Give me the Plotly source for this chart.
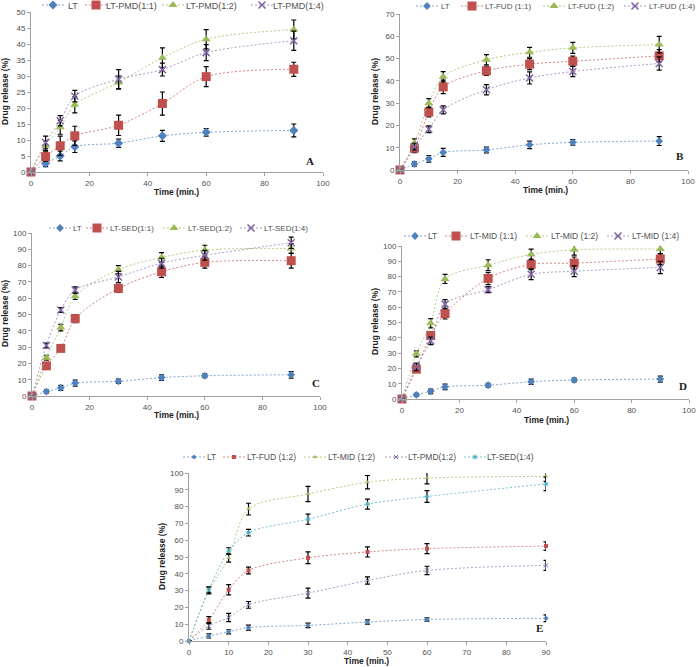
import plotly.graph_objects as go

W, H = 700, 667

time = [0, 5, 10, 15, 30, 45, 60, 90]
x_ticks_100 = [0, 20, 40, 60, 80, 100]
x_ticks_90 = [0, 10, 20, 30, 40, 50, 60, 70, 80, 90]

# LT (common)
lt = [0, 2.7, 5.0, 7.9, 9.0, 11.3, 12.4, 13.0]
lt_err = [0, 1.0, 1.5, 1.8, 1.3, 1.7, 1.2, 2.0]

# Panel A (PMD)
pmd11 = [0, 4.8, 8.2, 11.3, 14.6, 21.4, 29.8, 32.1]
pmd11_err = [0, 1.5, 3.0, 3.0, 3.2, 3.6, 3.1, 2.2]
pmd12 = [0, 8.2, 14.0, 21.0, 28.0, 35.7, 41.5, 44.5]
pmd12_err = [0, 1.5, 2.2, 2.5, 2.0, 3.1, 3.0, 3.0]
pmd14 = [0, 9.2, 16.0, 23.7, 29.0, 32.0, 37.3, 41.0]
pmd14_err = [0, 2.0, 1.6, 1.8, 3.0, 2.0, 2.5, 3.0]

# Panel B (FUD)
fud11 = [0, 9.8, 26.0, 37.3, 44.5, 47.5, 48.8, 51.2]
fud11_err = [0, 2.0, 2.2, 3.0, 2.0, 2.5, 2.3, 2.8]
fud12 = [0, 12.0, 30.0, 41.8, 49.5, 52.8, 54.8, 56.3]
fud12_err = [0, 2.0, 2.0, 2.3, 2.3, 2.2, 2.5, 3.7]
fud14 = [0, 10.5, 18.3, 27.0, 36.0, 41.3, 44.2, 47.8]
fud14_err = [0, 1.5, 1.5, 1.8, 2.3, 2.7, 2.3, 3.0]

# Panel C (SED)
sed11 = [0, 18.5, 29.2, 47.5, 66.0, 76.2, 82.0, 83.0]
sed11_err = [0, 1.5, 1.8, 2.5, 2.5, 3.5, 3.5, 4.5]
sed12 = [0, 23.5, 42.0, 61.2, 77.5, 85.0, 89.5, 90.5]
sed12_err = [0, 1.5, 2.0, 2.0, 2.5, 3.0, 3.0, 3.0]
sed14 = [0, 31.0, 52.8, 65.0, 73.0, 81.5, 86.3, 94.0]
sed14_err = [0, 1.5, 1.5, 2.0, 3.5, 3.0, 3.0, 3.5]

# Panel D (MID)
mid11 = [0, 19.5, 41.5, 55.8, 78.8, 88.0, 88.8, 91.5]
mid11_err = [0, 2.0, 2.0, 3.5, 4.0, 3.5, 4.0, 3.5]
mid12 = [0, 29.5, 49.5, 78.5, 87.5, 94.5, 97.5, 98.0]
mid12_err = [0, 2.0, 3.0, 3.0, 3.5, 3.5, 3.5, 3.0]
mid14 = [0, 21.0, 38.0, 62.0, 71.5, 81.5, 83.5, 86.0]
mid14_err = [0, 2.5, 2.5, 3.0, 2.0, 3.5, 3.5, 4.0]

# Panel E (comparison)
e_lt = [0, 3.0, 5.5, 8.0, 9.3, 11.3, 12.8, 13.5]
e_lt_err = [0, 1.2, 1.2, 1.5, 1.3, 1.3, 1.0, 2.0]
e_fud12 = [0, 12.5, 30.5, 42.0, 49.5, 53.0, 55.0, 56.5]
e_fud12_err = [0, 2.0, 3.0, 2.0, 3.5, 3.0, 3.0, 2.5]
e_mid12 = [0, 30.0, 49.5, 78.5, 87.5, 94.5, 97.0, 98.0]
e_mid12_err = [0, 2.0, 2.5, 3.5, 4.5, 4.0, 3.5, 3.0]
e_pmd12 = [0, 9.0, 14.0, 21.5, 28.5, 36.0, 42.0, 45.0]
e_pmd12_err = [0, 2.0, 2.5, 2.0, 3.0, 2.2, 2.5, 3.0]
e_sed14 = [0, 30.5, 53.5, 64.5, 72.5, 81.5, 86.0, 93.5]
e_sed14_err = [0, 1.8, 2.0, 2.0, 3.0, 3.0, 3.5, 4.0]

BLUE, RED, GREEN, PURPLE, CYAN = "#4F81BD", "#C0504D", "#9BBB59", "#8064A2", "#4BACC6"
LINE = {BLUE: "rgba(79,129,189,0.7)", RED: "rgba(192,80,77,0.7)", GREEN: "rgba(155,187,89,0.75)",
        PURPLE: "rgba(128,100,162,0.65)", CYAN: "rgba(75,172,198,0.75)"}
TXT = "#505050"
FONT = "Liberation Sans"
DATA_DASH = "2px,2px"
# short dotted sample for the legend (visible only around the marker)
SAMPLE_DASH = "0px,4px,2px,2px,2px,2px,2px,2px,2px,2px,2px,2px,2px,6px"


def px_x(p):
    return p / W


def px_y(p):
    return 1 - p / H


fig = go.Figure()
lay = {}
leg_count = [0]


def new_legend(left_px, y_px, fsize):
    leg_count[0] += 1
    n = leg_count[0]
    lname = "legend" if n == 1 else f"legend{n}"
    lay[lname] = dict(orientation="h", x=px_x(left_px), y=px_y(y_px), xanchor="left",
                      yanchor="middle", font=dict(family=FONT, size=fsize, color=TXT),
                      bgcolor="rgba(0,0,0,0)", itemwidth=30, visible=True)
    return lname


def add(name, y, err, color, symbol, size, ax, mark_x, text_x, leg_y, fsize, lw=1.5):
    xa = "x" if ax == 1 else f"x{ax}"
    ya = "y" if ax == 1 else f"y{ax}"
    mk = dict(color=color, symbol=symbol, size=size)
    if symbol.startswith("x-thin") or symbol.startswith("asterisk"):
        mk["line"] = dict(color=color, width=lw)
    # data trace
    fig.add_trace(go.Scatter(
        x=time, y=y, name=name, mode="lines+markers",
        line=dict(color=LINE[color], width=1, dash=DATA_DASH, shape="spline", smoothing=0.9),
        marker=mk,
        error_y=dict(type="data", array=err, color="black", thickness=1.2, width=2.5),
        xaxis=xa, yaxis=ya, showlegend=False, cliponaxis=False,
    ))
    # legend sample (line + marker)
    fig.add_trace(go.Scatter(
        x=[None], y=[None], name=" ", mode="lines+markers",
        line=dict(color=LINE[color], width=1, dash=SAMPLE_DASH),
        marker=mk, xaxis=xa, yaxis=ya, hoverinfo="skip",
        legend=new_legend(mark_x - 20, leg_y, fsize),
    ))
    # legend text
    fig.add_trace(go.Scatter(
        x=[None], y=[None], name=name, mode="markers",
        marker=dict(color="rgba(0,0,0,0)", size=1), xaxis=xa, yaxis=ya, hoverinfo="skip",
        legend=new_legend(text_x - 40, leg_y, fsize),
    ))


# A
add("LT", lt, lt_err, BLUE, "diamond", 7, 1, 53, 68, 5, 9)
add("LT-PMD(1:1)", pmd11, pmd11_err, RED, "square", 9, 1, 96, 106, 5, 9)
add("LT-PMD(1:2)", pmd12, pmd12_err, GREEN, "triangle-up", 8, 1, 173, 186, 5, 9)
add("LT-PMD(1:4)", pmd14, pmd14_err, PURPLE, "x-thin", 7, 1, 262, 273, 5, 9)
# B
add("LT", lt, lt_err, BLUE, "diamond", 6, 2, 427, 441, 6, 8)
add("LT-FUD (1:1)", fud11, fud11_err, RED, "square", 9, 2, 472, 485, 6, 8)
add("LT-FUD (1:2)", fud12, fud12_err, GREEN, "triangle-up", 8, 2, 554, 568, 6, 8)
add("LT-FUD (1:4)", fud14, fud14_err, PURPLE, "x-thin", 7, 2, 635, 649, 6, 8)
# C
add("LT", lt, lt_err, BLUE, "diamond", 6, 3, 60, 73, 228, 8)
add("LT-SED(1:1)", sed11, sed11_err, RED, "square", 9, 3, 97, 110, 228, 8)
add("LT-SED(1:2)", sed12, sed12_err, GREEN, "triangle-up", 8, 3, 174, 188, 228, 8)
add("LT-SED(1:4)", sed14, sed14_err, PURPLE, "x-thin", 7, 3, 251, 264, 228, 8)
# D
add("LT", lt, lt_err, BLUE, "diamond", 6, 4, 415, 428, 236, 8.5)
add("LT-MID (1:1)", mid11, mid11_err, RED, "square", 9, 4, 456, 470, 236, 8.5)
add("LT-MID (1:2)", mid12, mid12_err, GREEN, "triangle-up", 8, 4, 537, 551, 236, 8.5)
add("LT-MID (1:4)", mid14, mid14_err, PURPLE, "x-thin", 7, 4, 618, 632, 236, 8.5)
# E
add("LT", e_lt, e_lt_err, BLUE, "diamond", 4, 5, 194, 207, 457, 8.5)
add("LT-FUD (1:2)", e_fud12, e_fud12_err, RED, "square", 4, 5, 234, 247, 457, 8.5)
add("LT-MID (1:2)", e_mid12, e_mid12_err, GREEN, "triangle-up", 4, 5, 315, 328, 457, 8.5)
add("LT-PMD(1:2)", e_pmd12, e_pmd12_err, PURPLE, "x-thin", 4, 5, 396, 408, 457, 8.5, lw=1)
add("LT-SED(1:4)", e_sed14, e_sed14_err, CYAN, "asterisk", 4, 5, 475, 487, 457, 8.5, lw=1)

panels = {
    1: dict(x=(31, 323), y=(12, 172), yr=(0, 50), yd=5, xr=(0, 100), xt=x_ticks_100),
    2: dict(x=(400, 688), y=(14, 170), yr=(0, 70), yd=10, xr=(0, 100), xt=x_ticks_100),
    3: dict(x=(32, 320), y=(233, 396), yr=(0, 100), yd=10, xr=(0, 100), xt=x_ticks_100),
    4: dict(x=(402, 689), y=(246, 399), yr=(0, 100), yd=10, xr=(0, 100), xt=x_ticks_100),
    5: dict(x=(189, 546), y=(473, 641), yr=(0, 100), yd=10, xr=(0, 90), xt=x_ticks_90),
}

axis_common = dict(
    showgrid=False, zeroline=False, showline=True, linecolor="#A0A0A0", linewidth=1,
    ticks="outside", ticklen=3, tickcolor="#A0A0A0", ticklabeloverflow="allow",
    ticklabelposition="outside",
    tickfont=dict(family=FONT, size=8, color=TXT),
)

for i, p in panels.items():
    k = "" if i == 1 else str(i)
    lay[f"xaxis{k}"] = dict(axis_common, domain=[px_x(p["x"][0]), px_x(p["x"][1])],
                            range=list(p["xr"]), tickmode="array", tickvals=p["xt"],
                            ticktext=[str(v) for v in p["xt"]], anchor=f"y{k}")
    lay[f"yaxis{k}"] = dict(axis_common, domain=[px_y(p["y"][1]), px_y(p["y"][0])],
                            range=list(p["yr"]), dtick=p["yd"], tick0=0,
                            anchor=f"x{k}")

ann = []
title_font = dict(family=FONT, size=8.5, color="#202020")
# x titles
for (cx, cy) in [(177, 192), (545, 190), (177, 415), (546, 420), (367, 661)]:
    ann.append(dict(text="<b>Time (min.)</b>", x=px_x(cx), y=px_y(cy), xref="paper", yref="paper",
                    showarrow=False, font=title_font, xanchor="center", yanchor="middle"))
# y titles
for (cx, cy) in [(5, 92), (375, 92), (5, 314), (375, 322), (162, 557)]:
    ann.append(dict(text="<b>Drug release (%)</b>", x=px_x(cx), y=px_y(cy), xref="paper", yref="paper",
                    showarrow=False, font=title_font, textangle=-90, xanchor="center", yanchor="middle"))
# panel letters
for t, (cx, cy) in zip("ABCDE", [(310, 161), (680, 156), (316, 383), (683, 386), (539, 628)]):
    ann.append(dict(text=f"<b>{t}</b>", x=px_x(cx), y=px_y(cy), xref="paper", yref="paper",
                    showarrow=False, font=dict(family="Liberation Serif", size=11, color="#202020"),
                    xanchor="center", yanchor="middle"))

fig.update_layout(
    width=W, height=H,
    margin=dict(l=0, r=0, t=0, b=0, autoexpand=False),
    paper_bgcolor="white", plot_bgcolor="white",
    showlegend=True,
    annotations=ann,
    **lay,
)

fig.write_html("out.html", config={"displayModeBar": False},
               post_script="document.body.style.margin='0';document.body.style.overflow='hidden';")
